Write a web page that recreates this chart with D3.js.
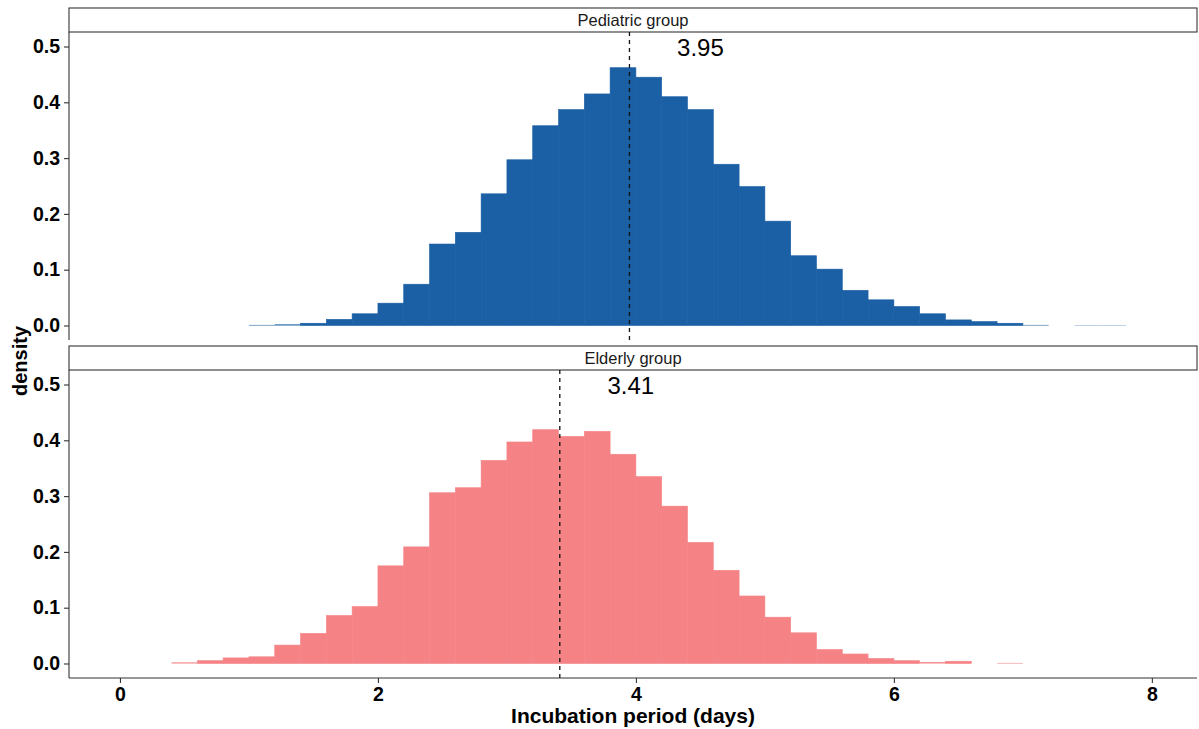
<!DOCTYPE html>
<html>
<head>
<meta charset="utf-8">
<script src="https://cdn.jsdelivr.net/npm/d3@7"></script>
<style>
  body { margin: 0; background: #fff; }
  svg { font-family: "Liberation Sans", Arial, sans-serif; }
</style>
</head>
<body>
<script>
// bin lower edges (bin width 0.2 days) and density values
var binWidth = 0.2;
var pediatricBins = [1.0, 1.2, 1.4, 1.6, 1.8, 2.0, 2.2, 2.4, 2.6, 2.8, 3.0, 3.2, 3.4, 3.6, 3.8, 4.0, 4.2,
    4.4, 4.6, 4.8, 5.0, 5.2, 5.4, 5.6, 5.8, 6.0, 6.2, 6.4, 6.6, 6.8, 7.0, 7.2, 7.4, 7.6];
var pediatricDensity = [0.001, 0.002, 0.004, 0.011, 0.021, 0.040, 0.074, 0.146, 0.167, 0.236, 0.297, 0.358,
    0.387, 0.415, 0.462, 0.445, 0.410, 0.387, 0.289, 0.249, 0.187, 0.125, 0.101, 0.063, 0.046, 0.034,
    0.021, 0.010, 0.007, 0.004, 0.001, 0, 0.0005, 0.0005];
var elderlyBins = [0.4, 0.6, 0.8, 1.0, 1.2, 1.4, 1.6, 1.8, 2.0, 2.2, 2.4, 2.6, 2.8, 3.0, 3.2, 3.4, 3.6,
    3.8, 4.0, 4.2, 4.4, 4.6, 4.8, 5.0, 5.2, 5.4, 5.6, 5.8, 6.0, 6.2, 6.4, 6.6, 6.8];
var elderlyDensity = [0.002, 0.005, 0.010, 0.012, 0.033, 0.054, 0.086, 0.102, 0.175, 0.209, 0.306, 0.315,
    0.364, 0.397, 0.419, 0.407, 0.416, 0.375, 0.335, 0.282, 0.217, 0.167, 0.121, 0.083, 0.055, 0.025,
    0.017, 0.009, 0.005, 0.0025, 0.004, 0, 0.001];

var groupNames = ["Pediatric group", "Elderly group"];
var groupMeans = [3.95, 3.41];
var groupColors = ["#1b5fa5", "#f58386"];
var xTicks = [0, 2, 4, 6, 8];
var yTicks = [0, 0.1, 0.2, 0.3, 0.4, 0.5];

var W = 1199, H = 729;
var left = 69, right = 1197;
var stripH = 24, panelH = 308;
var panelTops = [32, 370];

var svg = d3.select("body").append("svg").attr("width", W).attr("height", H);

var x = d3.scaleLinear().domain([-0.395, 8.35]).range([left, right]);

var groups = [
    { bins: pediatricBins, dens: pediatricDensity },
    { bins: elderlyBins, dens: elderlyDensity }
];

groups.forEach(function(g, i) {
    var top = panelTops[i];
    var y = d3.scaleLinear().domain([-0.026, 0.526]).range([top + panelH, top]);
    var data = g.bins.map(function(b, j) { return { x0: b, x1: b + binWidth, d: g.dens[j] }; });

    // strip
    svg.append("rect").attr("x", left).attr("y", top - stripH).attr("width", right - left).attr("height", stripH)
        .attr("fill", "#fff").attr("stroke", "#333").attr("stroke-width", 1.1);
    svg.append("text").attr("x", (left + right) / 2).attr("y", top - stripH / 2 + 6)
        .attr("text-anchor", "middle").attr("font-size", 16.5).attr("fill", "#1a1a1a").text(groupNames[i]);

    // bars (thin same-colour stroke hides the seams)
    svg.append("g").selectAll("rect").data(data).enter().append("rect")
        .attr("x", function(d) { return x(d.x0); })
        .attr("width", function(d) { return x(d.x1) - x(d.x0); })
        .attr("y", function(d) { return y(d.d); })
        .attr("height", function(d) { return y(0) - y(d.d); })
        .attr("fill", groupColors[i])
        .attr("stroke", function(d) { return d.d > 0.003 ? groupColors[i] : "none"; })
        .attr("stroke-width", 0.6);

    // mean line + label
    svg.append("line").attr("x1", x(groupMeans[i])).attr("x2", x(groupMeans[i]))
        .attr("y1", top).attr("y2", top + panelH)
        .attr("stroke", "#111").attr("stroke-width", 1.3).attr("stroke-dasharray", "4,4");
    svg.append("text").attr("x", x(groupMeans[i] + 0.55)).attr("y", y(0.5) + 9)
        .attr("text-anchor", "middle").attr("font-size", 24).attr("fill", "#000")
        .text(groupMeans[i].toFixed(2));

    // y axis
    var ya = svg.append("g").attr("transform", "translate(" + left + ",0)")
        .call(d3.axisLeft(y).tickValues(yTicks).tickFormat(d3.format(".1f")).tickSize(5).tickPadding(4));
    ya.select(".domain").attr("d", "M0," + top + "V" + (top + panelH)).attr("stroke", "#333").attr("stroke-width", 1.1);
    ya.selectAll(".tick line").attr("stroke", "#333").attr("stroke-width", 1.1);
    ya.selectAll(".tick text").attr("font-size", 19.5).attr("font-weight", "bold").attr("fill", "#000")
        .attr("font-family", "Liberation Sans, Arial, sans-serif");
});

// x axis on bottom panel
var xa = svg.append("g").attr("transform", "translate(0," + (panelTops[1] + panelH) + ")")
    .call(d3.axisBottom(x).tickValues(xTicks).tickSize(5).tickPadding(4));
xa.select(".domain").attr("d", "M" + left + ",0H" + right).attr("stroke", "#333").attr("stroke-width", 1.1);
xa.selectAll(".tick line").attr("stroke", "#333").attr("stroke-width", 1.1);
xa.selectAll(".tick text").attr("font-size", 19.5).attr("font-weight", "bold").attr("fill", "#000")
    .attr("font-family", "Liberation Sans, Arial, sans-serif");

// axis titles
svg.append("text").attr("x", (left + right) / 2).attr("y", 723).attr("text-anchor", "middle")
    .attr("font-size", 21).attr("font-weight", "bold").text("Incubation period (days)");
svg.append("text").attr("transform", "translate(27,361) rotate(-90)").attr("text-anchor", "middle")
    .attr("font-size", 20).attr("font-weight", "bold").text("density");
</script>
</body>
</html>
